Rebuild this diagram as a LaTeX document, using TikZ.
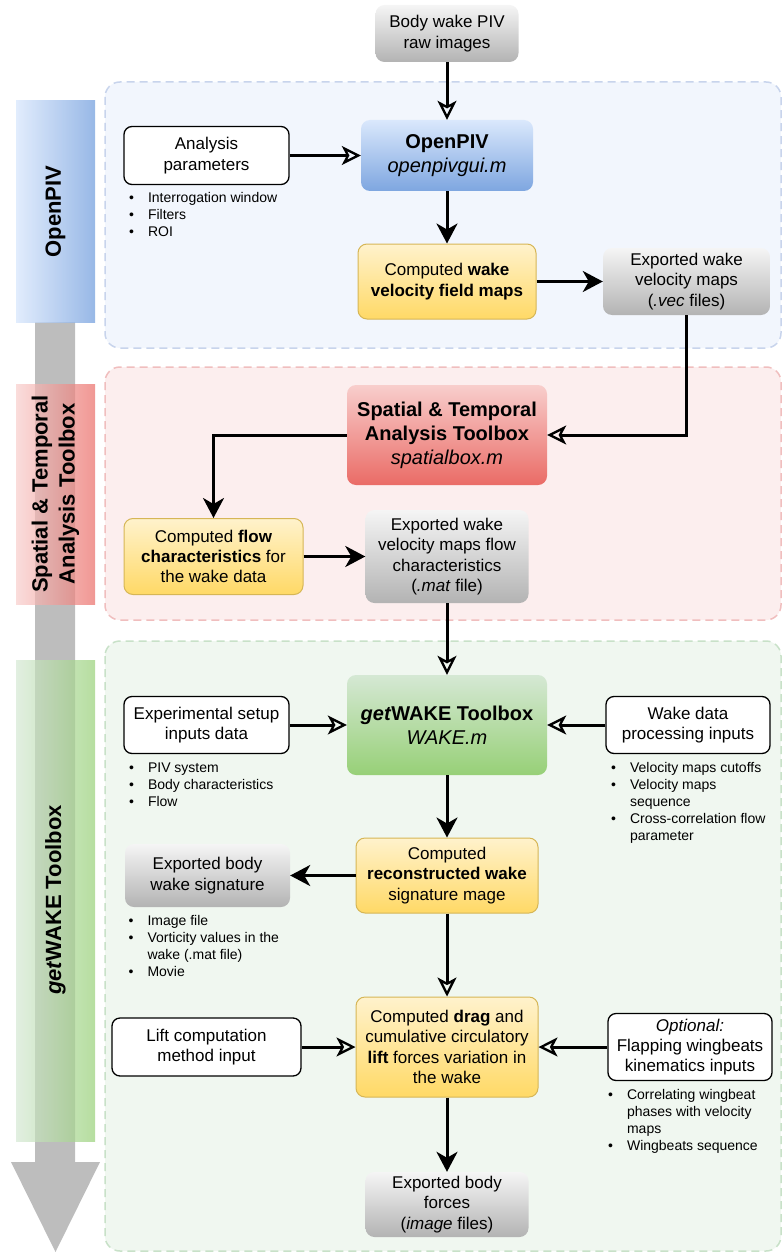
\documentclass[tikz,border=0pt]{standalone}
\usepackage{fontspec}
\setmainfont{Liberation Sans}
\usetikzlibrary{arrows.meta,positioning}

\definecolor{yellowtop}{HTML}{FFF2CC}
\definecolor{yellowbot}{HTML}{FFD966}
\definecolor{yellowline}{HTML}{D6B656}
\definecolor{graytop}{HTML}{F5F5F5}
\definecolor{graybot}{HTML}{B3B3B3}
\definecolor{bluetop}{HTML}{DAE8FC}
\definecolor{bluebot}{HTML}{7EA6E0}
\definecolor{redtop}{HTML}{F8CECC}
\definecolor{redbot}{HTML}{EA6B66}
\definecolor{greentop}{HTML}{D5E8D4}
\definecolor{greenbot}{HTML}{97D077}
\definecolor{arrowgray}{HTML}{BDBDBD}

\newcommand{\bul}{\makebox[19pt][l]{\textbullet}}
\newcommand{\ind}{\hspace*{19pt}}

\tikzset{
  box/.style={rounded corners=9pt, align=center, inner sep=3pt,
    font=\fontsize{17}{20.4}\selectfont},
  whitebox/.style={box, draw=black, line width=1.3pt, fill=white, rounded corners=8pt},
  yellowbox/.style={box, draw=yellowline, line width=1pt, top color=yellowtop, bottom color=yellowbot},
  graybox/.style={box, top color=graytop, bottom color=graybot},
  titlebox/.style={box, font=\fontsize{20}{24}\selectfont},
  bluebox/.style={titlebox, top color=bluetop, bottom color=bluebot},
  redbox/.style={titlebox, top color=redtop, bottom color=redbot},
  greenbox/.style={titlebox, top color=greentop, bottom color=greenbot},
  notes/.style={anchor=north west, inner sep=0pt, align=left,
    font=\fontsize{14}{17}\selectfont},
  container/.style={dashed, dash pattern=on 8pt off 5pt, line width=1.5pt, rounded corners=15pt},
  sidelabel/.style={rotate=90, align=center, font=\fontsize{22}{27}\selectfont\bfseries},
  fillarr/.style={-{Stealth[length=20pt,width=21pt,inset=6pt]}, line width=3pt},
  openarr/.style={-{Stealth[open,length=19pt,width=19pt,inset=5pt,line width=2.3pt]}, line width=3pt}
}

\begin{document}
\begin{tikzpicture}[x=1pt,y=-1pt,on grid]
  \useasboundingbox (0,0) rectangle (782,1252);
  \draw[container, draw={rgb,255:red,200;green,212;blue,236}, fill={rgb,255:red,242;green,246;blue,253}] (105,82) rectangle (781,348);
  \draw[container, draw={rgb,255:red,240;green,190;blue,190}, fill={rgb,255:red,252;green,238;blue,238}] (105,367) rectangle (781,620);
  \draw[container, draw={rgb,255:red,200;green,225;blue,200}, fill={rgb,255:red,240;green,247;blue,240}] (105,641) rectangle (781,1251);

  \fill[arrowgray] (35,322) -- (75,322) -- (75,1162) -- (100,1162) -- (55.5,1252) -- (11,1162) -- (35,1162) -- cycle;
  \shade[left color=bluetop, right color=bluebot, opacity=0.8] (16,101) rectangle (95,322);
  \shade[left color=redtop, right color=redbot, opacity=0.7] (16,384) rectangle (95,604);
  \shade[left color=greentop, right color=greenbot, opacity=0.7] (16,660) rectangle (95,1141);
  \node[sidelabel] (lab_openpiv) at (55.5,211.5) {OpenPIV};
  \node[sidelabel] (lab_spatial) at (55.5,494) {Spatial \& Temporal\\Analysis Toolbox};
  \node[sidelabel] (lab_getwake) at (55.5,900) {\textit{get}WAKE Toolbox};

  \node[graybox, minimum width=143pt, minimum height=57pt] (raw) at (447,33.5) {Body wake PIV\\raw images};
  \node[bluebox, minimum width=172pt, minimum height=71pt] (openpiv) [below=122pt of raw] {\textbf{OpenPIV}\\\textit{openpivgui.m}};
  \node[whitebox, minimum width=165pt, minimum height=58pt] (anaparam) [left=240.5pt of openpiv] {Analysis\\parameters};
  \node[yellowbox, minimum width=178pt, minimum height=75pt] (wakemaps) [below=126pt of openpiv] {Computed \textbf{wake}\\\textbf{velocity field maps}};
  \node[graybox, minimum width=167pt, minimum height=67pt] (vecfiles) [right=239.5pt of wakemaps] {Exported wake\\velocity maps\\(\textit{.vec} files)};
  \node[redbox, minimum width=200pt, minimum height=100pt] (spatial) [below=153.5pt of wakemaps] {\textbf{Spatial \& Temporal}\\\textbf{Analysis Toolbox}\\\textit{spatialbox.m}};
  \node[graybox, minimum width=163pt, minimum height=93pt] (matfile) [below=121.5pt of spatial] {Exported wake\\velocity maps flow\\characteristics\\(\textit{.mat} file)};
  \node[yellowbox, minimum width=179pt, minimum height=76pt] (flowchar) [left=233.5pt of matfile] {Computed \textbf{flow}\\\textbf{characteristics} for\\the wake data};
  \node[greenbox, minimum width=200pt, minimum height=100pt] (getwake) [below=168.5pt of matfile] {\textbf{\textit{get}WAKE Toolbox}\\\textit{WAKE.m}};
  \node[whitebox, minimum width=165pt, minimum height=57pt] (expsetup) [left=240.5pt of getwake] {Experimental setup\\inputs data};
  \node[whitebox, minimum width=164pt, minimum height=57pt] (wakeinput) [right=241pt of getwake] {Wake data\\processing inputs};
  \node[yellowbox, minimum width=182pt, minimum height=75pt] (recon) [below=150.5pt of getwake] {Computed\\\textbf{reconstructed wake}\\signature mage};
  \node[graybox, minimum width=165pt, minimum height=63pt] (bodysig) [left=239.5pt of recon] {Exported body\\wake signature};
  \node[yellowbox, minimum width=182pt, minimum height=100pt] (drag) [below=171.5pt of recon] {Computed \textbf{drag} and\\cumulative circulatory\\\textbf{lift} forces variation in\\the wake};
  \node[whitebox, minimum width=189pt, minimum height=58pt] (liftin) [left=240.5pt of drag] {Lift computation\\method input};
  \node[whitebox, minimum width=164pt, minimum height=67pt] (optional) [right=243pt of drag] {\textit{Optional:}\\Flapping wingbeats\\kinematics inputs};
  \node[graybox, minimum width=163pt, minimum height=65pt] (forces) [below=157.5pt of drag] {Exported body\\forces\\(\textit{image} files)};

  \node[notes] (notes_ana) at ([shift={(5.5,6.7)}]anaparam.south west) {\bul Interrogation window\\\bul Filters\\\bul ROI};
  \node[notes] (notes_exp) at ([shift={(5.5,8.4)}]expsetup.south west) {\bul PIV system\\\bul Body characteristics\\\bul Flow};
  \node[notes] (notes_wake) at ([shift={(5.5,8.4)}]wakeinput.south west) {\bul Velocity maps cutoffs\\\bul Velocity maps\\\ind sequence\\\bul Cross-correlation flow\\\ind parameter};
  \node[notes] (notes_sig) at ([shift={(3.5,7.7)}]bodysig.south west) {\bul Image file\\\bul Vorticity values in the\\\ind wake (.mat file)\\\bul Movie};
  \node[notes] (notes_opt) at ([shift={(0.5,7.7)}]optional.south west) {\bul Correlating wingbeat\\\ind phases with velocity\\\ind maps\\\bul Wingbeats sequence};

  \draw[openarr] (raw) -- (openpiv);
  \draw[openarr] (anaparam) -- (openpiv);
  \draw[fillarr] (openpiv) -- (wakemaps);
  \draw[fillarr] (wakemaps) -- (vecfiles);
  \draw[openarr] (vecfiles.south) |- (spatial.east);
  \draw[fillarr] (spatial.west) -| (flowchar.north);
  \draw[fillarr] (flowchar.east) -- (flowchar.east -| matfile.west);
  \draw[openarr] (matfile) -- (getwake);
  \draw[openarr] (expsetup.east) -- (expsetup.east -| getwake.west);
  \draw[openarr] (wakeinput.west) -- (wakeinput.west -| getwake.east);
  \draw[fillarr] (getwake) -- (recon);
  \draw[fillarr] (recon.west) -- (recon.west -| bodysig.east);
  \draw[openarr] (recon) -- (drag);
  \draw[openarr] (liftin) -- (drag);
  \draw[openarr] (optional.west) -- (optional.west -| drag.east);
  \draw[fillarr] (drag) -- (forces);
\end{tikzpicture}
\end{document}
